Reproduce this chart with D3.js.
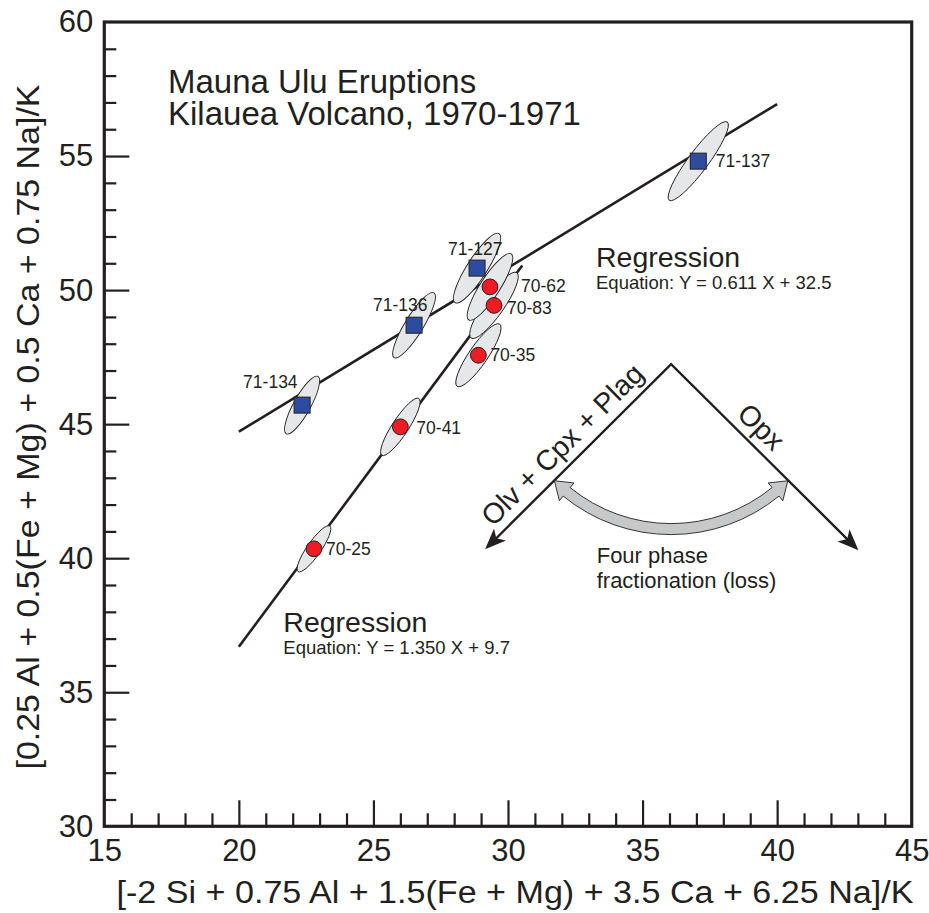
<!DOCTYPE html>
<html><head><meta charset="utf-8">
<script src="https://cdn.jsdelivr.net/npm/d3@7"></script>
<style>html,body{margin:0;padding:0;background:#fff}text{font-family:"Liberation Sans",Arial,Helvetica,sans-serif;fill:#231f20}</style>
</head><body><svg id="c" width="929" height="913"></svg>
<script>
// ---------- data ----------
const sampleNames1971 = ["71-134","71-136","71-127","71-137"];
const sampleX1971 = [22.35,26.51,28.85,37.07];
const sampleY1971 = [45.71,48.69,50.82,54.81];
const sampleNames1970 = ["70-25","70-41","70-35","70-83","70-62"];
const sampleX1970 = [22.79,26.00,28.90,29.48,29.33];
const sampleY1970 = [40.35,44.90,47.57,49.43,50.12];
// error ellipses: major semi-axis components (data units) and minor/major ratio
const ellipseDX1971 = [0.59,0.74,0.82,1.08];
const ellipseDY1971 = [1.07,1.21,1.29,1.46];
const ellipseRatio1971 = [0.26,0.24,0.245,0.205];
const ellipseDX1970 = [0.59,0.69,0.79,0.85,0.79];
const ellipseDY1970 = [0.85,1.06,1.16,1.22,1.23];
const ellipseRatio1970 = [0.25,0.24,0.25,0.25,0.25];
const regressionSlopes = [0.611, 1.350];
const regressionIntercepts = [32.5, 9.7];
const regressionXStart = [20, 20];
const regressionXEnd = [40, 30.53];
const regressionLabels = ["Regression","Regression"];
const regressionEquations = ["Equation: Y = 0.611 X + 32.5","Equation: Y = 1.350 X + 9.7"];
const xDomain = [15,45], yDomain = [30,60];
const xMajorTicks = [15,20,25,30,35,40,45];
const yMajorTicks = [30,35,40,45,50,55,60];
const vectorApex = [36.06,47.24];
const vectorTips = [[29.15,40.33],[43.02,40.30]];
const vectorLabels = ["Olv + Cpx + Plag","Opx"];
const titleLines = ["Mauna Ulu Eruptions","Kilauea Volcano, 1970-1971"];
const arcLabelLines = ["Four phase","fractionation (loss)"];
const xLabel = "[-2 Si + 0.75 Al + 1.5(Fe + Mg) + 3.5 Ca + 6.25 Na]/K";
const yLabel = "[0.25 Al + 0.5(Fe + Mg) + 0.5 Ca + 0.75 Na]/K";

// ---------- layout ----------
const INK = "#231f20";
const labelOffsets = {"71-134":[-59,-17],"71-136":[-41,-14],"71-127":[-29,-13],"71-137":[17.5,6],
  "70-62":[31,5],"70-83":[13,9],"70-35":[12,6],"70-41":[16,7],"70-25":[12,6]};
const regLabelPos = [[596,266.7],[283.3,631.7]];

const svg = d3.select("#c");
const x = d3.scaleLinear().domain(xDomain).range([104.3,911.7]);
const y = d3.scaleLinear().domain(yDomain).range([826.3,22]);

const minorX = d3.range(16,45).filter(v=>v%5!==0);
const minorY = d3.range(31,60).filter(v=>v%5!==0);

// axes
function styleAxis(g){ g.select(".domain").remove(); g.selectAll("line").attr("stroke",INK).attr("stroke-width",2.2); }
svg.append("g").attr("transform",`translate(0,${y(30)})`)
  .call(d3.axisBottom(x).tickValues(minorX).tickSize(-13).tickSizeOuter(0).tickFormat("")).call(styleAxis);
svg.append("g").attr("transform",`translate(0,${y(30)})`)
  .call(d3.axisBottom(x).tickValues(xMajorTicks).tickSize(-26).tickSizeOuter(0).tickPadding(13).tickFormat(d3.format("d")))
  .call(styleAxis)
  .call(g=>{g.selectAll(".tick").filter(d=>d===15||d===45).select("line").remove();
            g.selectAll("text").attr("font-size",31).attr("fill",INK).attr("font-family",'"Liberation Sans",Arial,sans-serif');});
svg.append("g").attr("transform",`translate(${x(15)},0)`)
  .call(d3.axisLeft(y).tickValues(minorY).tickSize(-12).tickSizeOuter(0).tickFormat("")).call(styleAxis);
svg.append("g").attr("transform",`translate(${x(15)},0)`)
  .call(d3.axisLeft(y).tickValues(yMajorTicks).tickSize(-25).tickSizeOuter(0).tickPadding(11).tickFormat(d3.format("d")))
  .call(styleAxis)
  .call(g=>{g.selectAll(".tick").filter(d=>d===30||d===60).select("line").remove();
            g.selectAll("text").attr("font-size",31).attr("fill",INK).attr("font-family",'"Liberation Sans",Arial,sans-serif');});

// frame
svg.append("rect").attr("x",x(15)).attr("y",y(60)).attr("width",x(45)-x(15)).attr("height",y(30)-y(60))
  .attr("fill","none").attr("stroke",INK).attr("stroke-width",3.2);

// axis labels
svg.append("text").attr("x",515).attr("y",903).attr("text-anchor","middle").attr("font-size",31)
  .attr("textLength",797).attr("lengthAdjust","spacingAndGlyphs").text(xLabel);
svg.append("text").attr("transform","translate(38.5,427) rotate(-90)").attr("text-anchor","middle").attr("font-size",31)
  .attr("textLength",685).attr("lengthAdjust","spacingAndGlyphs").text(yLabel);

// title (single text block, two lines)
svg.append("text").attr("x",168).attr("y",92.5).attr("font-size",33)
  .selectAll("tspan").data(titleLines).join("tspan")
  .attr("x",168).attr("dy",(d,i)=>i===0?0:32.5).text(d=>d);

// regression lines
regressionSlopes.forEach((m,i)=>{
  const x0=regressionXStart[i], x1=regressionXEnd[i], b=regressionIntercepts[i];
  svg.append("line").attr("x1",x(x0)).attr("y1",y(m*x0+b)).attr("x2",x(x1)).attr("y2",y(m*x1+b))
    .attr("stroke",INK).attr("stroke-width",2.6);
  svg.append("text").attr("x",regLabelPos[i][0]).attr("y",regLabelPos[i][1]).attr("font-size",28.5).text(regressionLabels[i]);
  svg.append("text").attr("x",regLabelPos[i][0]).attr("y",regLabelPos[i][1]+22.3).attr("font-size",18.5).text(regressionEquations[i]);
});

// ellipses
function drawEllipses(names,xs,ys,dxs,dys,ratios){
  names.forEach((n,i)=>{
    const cx=x(xs[i]), cy=y(ys[i]);
    const tx=x(xs[i]+dxs[i]), ty=y(ys[i]+dys[i]);
    const a=Math.hypot(tx-cx,ty-cy), ang=Math.atan2(ty-cy,tx-cx)*180/Math.PI;
    svg.append("ellipse").attr("transform",`translate(${cx},${cy}) rotate(${ang})`)
      .attr("rx",a).attr("ry",a*ratios[i]).attr("fill","#e6e7e8").attr("stroke",INK).attr("stroke-width",0.9);
  });
}
drawEllipses(sampleNames1971,sampleX1971,sampleY1971,ellipseDX1971,ellipseDY1971,ellipseRatio1971);
drawEllipses(sampleNames1970,sampleX1970,sampleY1970,ellipseDX1970,ellipseDY1970,ellipseRatio1970);

// markers
svg.append("g").selectAll("rect").data(sampleNames1971).join("rect")
  .attr("x",(d,i)=>x(sampleX1971[i])-8).attr("y",(d,i)=>y(sampleY1971[i])-8).attr("width",16).attr("height",16)
  .attr("fill","#2e4c9f").attr("stroke",INK).attr("stroke-width",1);
svg.append("g").selectAll("circle").data(sampleNames1970).join("circle")
  .attr("cx",(d,i)=>x(sampleX1970[i])).attr("cy",(d,i)=>y(sampleY1970[i])).attr("r",7.9)
  .attr("fill","#ed1c24").attr("stroke",INK).attr("stroke-width",1);

// point labels
const allNames=sampleNames1971.concat(sampleNames1970), allX=sampleX1971.concat(sampleX1970), allY=sampleY1971.concat(sampleY1970);
svg.append("g").selectAll("text").data(allNames).join("text")
  .attr("x",(d,i)=>x(allX[i])+labelOffsets[d][0]).attr("y",(d,i)=>y(allY[i])+labelOffsets[d][1])
  .attr("font-size",17.5).text(d=>d);

// fractionation vectors
const A=[x(vectorApex[0]),y(vectorApex[1])];
const tipsP=vectorTips.map(t=>[x(t[0]),y(t[1])]);
const headLen=21, headHW=8.5;
const bases=tipsP.map(tp=>{const dx=tp[0]-A[0],dy=tp[1]-A[1],L=Math.hypot(dx,dy);return [tp[0]-dx/L*headLen*0.7,tp[1]-dy/L*headLen*0.7];});
svg.append("path").attr("d",`M${bases[0]}L${A}L${bases[1]}`).attr("fill","none").attr("stroke",INK).attr("stroke-width",2.4).attr("stroke-linejoin","miter");
tipsP.forEach(tp=>{
  const dx=tp[0]-A[0],dy=tp[1]-A[1],L=Math.hypot(dx,dy),ux=dx/L,uy=dy/L,nx=-uy,ny=ux;
  const p1=[tp[0]-ux*headLen+nx*headHW,tp[1]-uy*headLen+ny*headHW];
  const p2=[tp[0]-ux*headLen*0.75,tp[1]-uy*headLen*0.75];
  const p3=[tp[0]-ux*headLen-nx*headHW,tp[1]-uy*headLen-ny*headHW];
  svg.append("path").attr("d",`M${tp}L${p1}L${p2}L${p3}Z`).attr("fill",INK);
});
// vector labels
[[0,0.49,10],[1,0.41,9]].forEach(([i,t,off])=>{
  const tp=tipsP[i];
  let sx,sy,ex,ey;
  if(i===0){sx=tp[0];sy=tp[1];ex=A[0];ey=A[1];} else {sx=A[0];sy=A[1];ex=tp[0];ey=tp[1];}
  const L=Math.hypot(ex-sx,ey-sy), ux=(ex-sx)/L, uy=(ey-sy)/L;
  const th=Math.atan2(uy,ux);
  const upx=Math.sin(th), upy=-Math.cos(th);
  const px=sx+ux*L*t+upx*off, py=sy+uy*L*t+upy*off;
  svg.append("text").attr("transform",`translate(${px},${py}) rotate(${th*180/Math.PI})`)
    .attr("text-anchor","middle").attr("font-size",28.5).text(vectorLabels[i]);
});

// curved double arrow (arc centred on the vector apex)
(function(){
  const r0=165, ro=170.5, ri=159.5, hw=11.5, h=0.1;
  const t1=Math.PI*0.75, t2=Math.PI*0.25;
  const P=(r,t)=>[A[0]+r*Math.cos(t),A[1]+r*Math.sin(t)];
  const p=d3.path();
  p.moveTo(...P(r0,t1));
  p.lineTo(...P(r0+hw,t1-h));
  p.lineTo(...P(ro,t1-h));
  p.arc(A[0],A[1],ro,t1-h,t2+h,true);
  p.lineTo(...P(r0+hw,t2+h));
  p.lineTo(...P(r0,t2));
  p.lineTo(...P(r0-hw,t2+h));
  p.lineTo(...P(ri,t2+h));
  p.arc(A[0],A[1],ri,t2+h,t1-h,false);
  p.lineTo(...P(r0-hw,t1-h));
  p.closePath();
  svg.append("path").attr("d",p.toString()).attr("fill","#c7c8ca").attr("stroke",INK).attr("stroke-width",0.9);
})();
svg.append("g").selectAll("text").data(arcLabelLines).join("text")
  .attr("x",596.7).attr("y",(d,i)=>563.3+i*25).attr("font-size",22).text(d=>d);
</script></body></html>
